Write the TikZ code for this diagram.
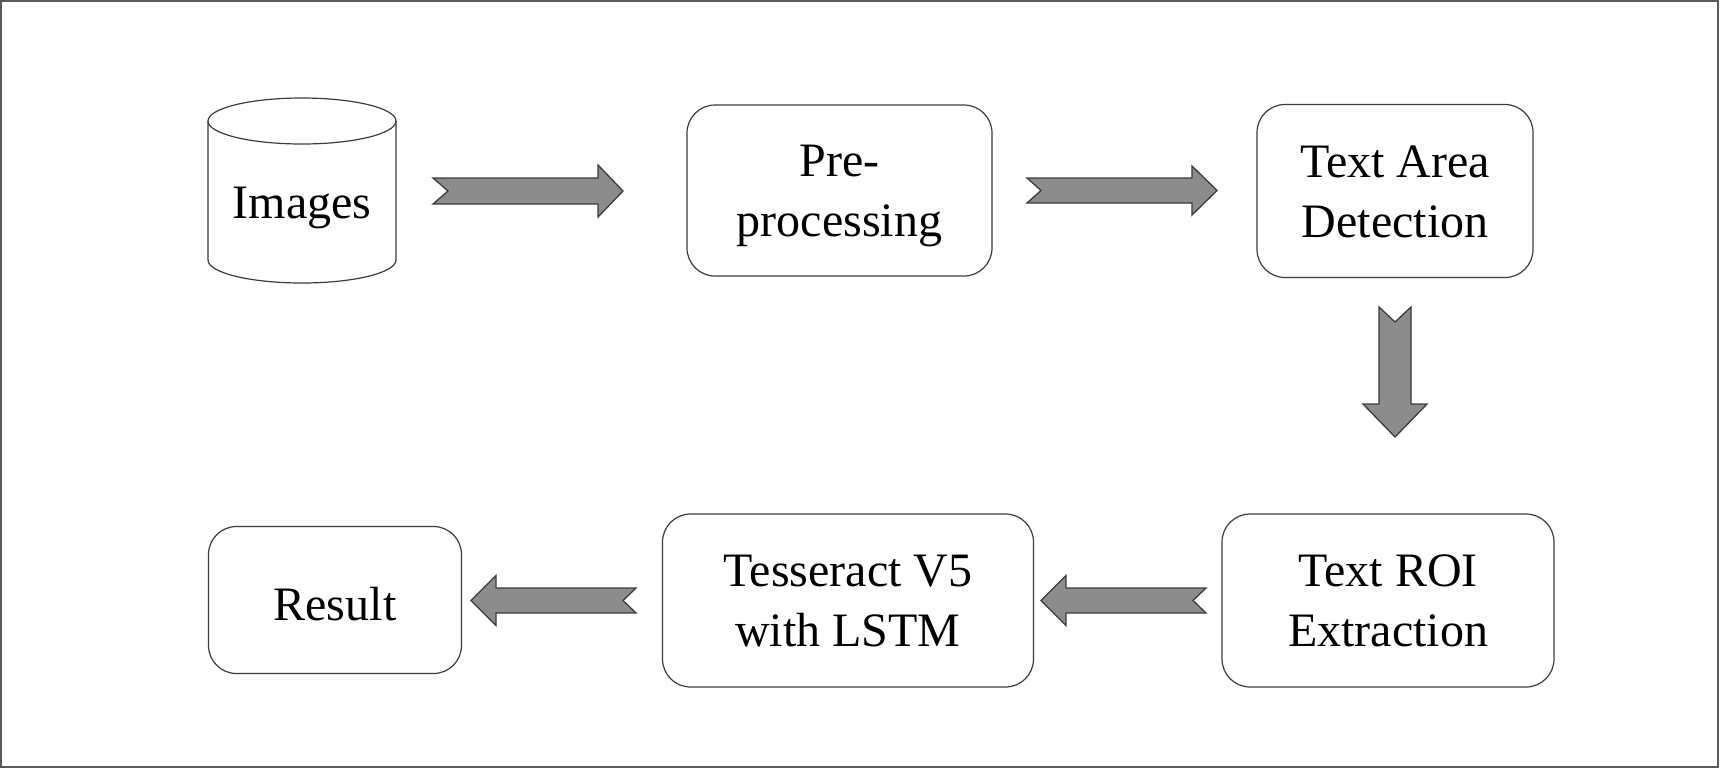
\documentclass[tikz,border=0pt]{standalone}
\usepackage{fontspec}
\setmainfont{Liberation Serif}
\usetikzlibrary{calc}
\definecolor{edgegray}{RGB}{60,60,60}
\definecolor{arrowfill}{RGB}{140,140,140}
\definecolor{framegray}{RGB}{90,90,90}
\tikzset{
  procbox/.style={draw=edgegray, line width=1.2pt, rounded corners=28pt, align=center,
    font=\fontsize{48}{60}\selectfont, inner sep=0pt},
  blockarrow/.style={draw=edgegray, line width=1.3pt, fill=arrowfill, line join=miter},
  lbl/.style={font=\fontsize{48}{60}\selectfont, inner sep=0pt}
}
% horizontal block arrow: tail x, notch x, head base x, tip x, y, body half, head half
\newcommand\harrow[7]{%
  \draw[blockarrow] (#1,#5-#6) -- (#3,#5-#6) -- (#3,#5-#7) -- (#4,#5) -- (#3,#5+#7)
    -- (#3,#5+#6) -- (#1,#5+#6) -- (#2,#5) -- cycle;}
% vertical block arrow: x, tail y, notch y, head base y, tip y, body half, head half
\newcommand\varrow[7]{%
  \draw[blockarrow] (#1-#6,#2) -- (#1-#6,#4) -- (#1-#7,#4) -- (#1,#5) -- (#1+#7,#4)
    -- (#1+#6,#4) -- (#1+#6,#2) -- (#1,#3) -- cycle;}
\newcommand\twolines[2]{\rule{0pt}{44pt}#1\\#2\rule[-12pt]{0pt}{12pt}}
\begin{document}
\begin{tikzpicture}[x=1pt,y=-1pt]
\useasboundingbox (0,0) rectangle (1720,769);
\fill[white] (0,0) rectangle (1720,769);
\draw[framegray, line width=2pt] (1,1) rectangle (1718,767);

% cylinder "Images"
\draw[edgegray, line width=1.2pt] (208,121) -- (208,260)
  arc[start angle=180, end angle=360, x radius=94pt, y radius=23pt] -- (396,121);
\draw[edgegray, line width=1.2pt] (302,121) ellipse[x radius=94pt, y radius=23pt];
\node[lbl, anchor=base] (images) at (302,218) {Images};

% process boxes
\node[procbox, minimum width=305pt, minimum height=171pt] (pre) at (839.5,190.5)
  {\twolines{Pre-}{processing}};
\node[procbox, minimum width=276pt, minimum height=173pt] (tad) at (1395,191)
  {\twolines{Text Area}{Detection}};
\node[procbox, minimum width=332pt, minimum height=173pt] (roi) at (1388,600.5)
  {\twolines{Text ROI}{Extraction}};
\node[procbox, minimum width=371pt, minimum height=173pt] (tess) at (848,600.5)
  {\twolines{Tesseract V5}{with LSTM}};
\node[procbox, minimum width=253pt, minimum height=147pt] (result) at (335,600)
  {\rule[-12pt]{0pt}{64pt}Result};

% block arrows
\harrow{433}{448}{598}{623}{191}{13}{26}
\harrow{1027}{1041}{1192}{1217}{190.5}{12.5}{24.5}
\varrow{1395}{307}{322}{404}{437}{16}{32}
\harrow{1206}{1193}{1066}{1041}{600.5}{12.5}{25}
\harrow{636}{623}{496}{471}{600.5}{12.5}{25}
\end{tikzpicture}
\end{document}
